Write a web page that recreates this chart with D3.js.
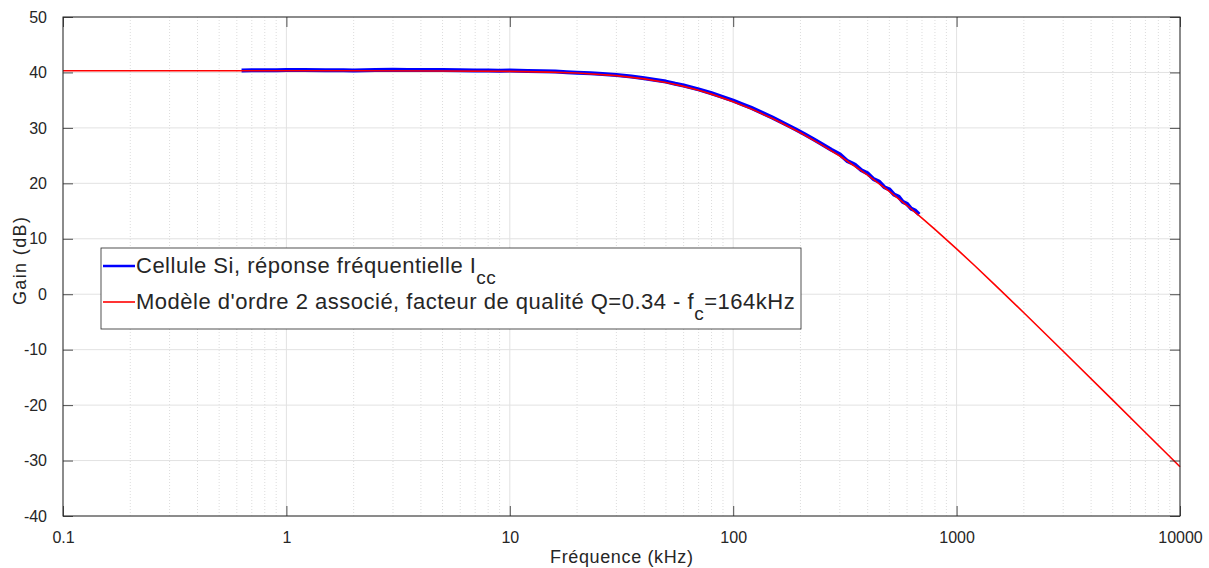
<!DOCTYPE html>
<html>
<head>
<meta charset="utf-8">
<script src="https://cdn.jsdelivr.net/npm/d3@7"></script>
<style>
  body { margin: 0; background: #fff; }
  text { font-family: "Liberation Sans", Arial, sans-serif; fill: #262626; }
</style>
</head>
<body>
<svg id="canvas"></svg>
<script>
// Bode gain plot - measured cell response vs fitted 2nd order model

// measured response (blue), kHz / dB
let measFreq = [0.63, 0.7, 0.8, 0.9, 1, 1.2, 1.5, 1.8, 2, 2.5, 3, 3.5, 4, 5, 6, 7, 8, 9, 10,
    12, 14, 16, 18, 20, 23, 26, 30, 35, 40, 45, 50, 55, 60, 70, 80, 90, 100, 110, 120, 135,
    150, 170, 190, 210, 230, 250, 275, 300, 325, 350, 375, 400, 425, 450, 475, 500, 525,
    550, 575, 600, 625, 650, 680];
let measGain = [40.35, 40.4, 40.4, 40.4, 40.45, 40.45, 40.4, 40.4, 40.35, 40.45, 40.5, 40.45,
    40.45, 40.45, 40.4, 40.35, 40.35, 40.3, 40.35, 40.25, 40.2, 40.15, 40.05, 39.95, 39.85,
    39.7, 39.55, 39.25, 38.95, 38.65, 38.35, 37.95, 37.65, 36.95, 36.25, 35.55, 34.9, 34.25,
    33.65, 32.7, 31.85, 30.75, 29.75, 28.8, 27.9, 27.05, 26.05, 25.25, 24.0, 23.4, 22.35,
    21.8, 20.75, 20.3, 19.3, 18.9, 17.95, 17.6, 16.65, 16.3, 15.45, 15.15, 14.4];

// fitted model (red), kHz / dB
let modelFreq = [0.1, 0.2, 0.5, 1, 2, 5, 10, 15, 20, 30, 40, 50, 60, 70, 80, 100, 120, 150,
    200, 250, 300, 400, 500, 600, 700, 800, 1000, 1200, 1500, 2000, 3000, 5000, 7000, 10000];
let modelGain = [40.3, 40.3, 40.3, 40.3, 40.3, 40.27, 40.19, 40.06, 39.89, 39.42, 38.84,
    38.19, 37.49, 36.79, 36.09, 34.72, 33.45, 31.69, 29.13, 26.9, 24.93, 21.49, 18.56, 16.0,
    13.73, 11.69, 8.18, 5.22, 1.52, -3.34, -10.28, -19.1, -24.93, -31.11];

let xTicks = [0.1, 1, 10, 100, 1000, 10000];
let xTickLabels = ['0.1', '1', '10', '100', '1000', '10000'];
let yTicks = [-40, -30, -20, -10, 0, 10, 20, 30, 40, 50];

let width = 1209;
let height = 568;
let margin = { left: 63, top: 17, right: 29, bottom: 52 };
let plotW = width - margin.left - margin.right;
let plotH = height - margin.top - margin.bottom;

const canvas = d3.select('#canvas').attr('width', width).attr('height', height);
const g = canvas.append('g').attr('transform', `translate(${margin.left},${margin.top})`);

const x = d3.scaleLog().domain([0.1, 10000]).range([0, plotW]);
const y = d3.scaleLinear().domain([-40, 50]).range([plotH, 0]);

// minor grid (2..9 of each decade)
let minor = [];
for (let d = 0.1; d < 10000; d *= 10) {
    for (let k = 2; k <= 9; k++) minor.push(d * k);
}
g.append('g')
    .selectAll('line')
    .data(minor)
    .enter()
    .append('line')
    .attr('x1', (d) => x(d)).attr('x2', (d) => x(d))
    .attr('y1', 0).attr('y2', plotH)
    .attr('stroke', '#dcdcdc')
    .attr('stroke-width', 1)
    .attr('stroke-dasharray', '1,2');

// major grid
g.append('g')
    .selectAll('line')
    .data(xTicks)
    .enter()
    .append('line')
    .attr('x1', (d) => x(d)).attr('x2', (d) => x(d))
    .attr('y1', 0).attr('y2', plotH)
    .attr('stroke', '#e2e2e2');
g.append('g')
    .selectAll('line')
    .data(yTicks)
    .enter()
    .append('line')
    .attr('x1', 0).attr('x2', plotW)
    .attr('y1', (d) => y(d)).attr('y2', (d) => y(d))
    .attr('stroke', '#e2e2e2');

// curves
const line = d3.line().x((d) => x(d[0])).y((d) => y(d[1]));
g.append('path')
    .datum(measFreq.map((f, i) => [f, measGain[i]]))
    .attr('d', line)
    .attr('fill', 'none')
    .attr('stroke', '#0000ff')
    .attr('stroke-width', 4)
    .attr('stroke-linejoin', 'round');
g.append('path')
    .datum(modelFreq.map((f, i) => [f, modelGain[i]]))
    .attr('d', line)
    .attr('fill', 'none')
    .attr('stroke', '#ff0000')
    .attr('stroke-width', 1.6);

// axes (MATLAB style, ticks inside)
const tickLen = 10;
const xAxis = d3.axisBottom(x).tickValues(xTicks).tickFormat((d, i) => xTickLabels[i])
    .tickSize(-tickLen).tickPadding(tickLen + 6);
const yAxis = d3.axisLeft(y).tickValues(yTicks).tickFormat((d) => String(d))
    .tickSize(-tickLen).tickPadding(tickLen + 6);

const gx = g.append('g').attr('transform', `translate(0,${plotH})`).call(xAxis);
const gy = g.append('g').call(yAxis);
g.append('g').call(d3.axisTop(x).tickValues(xTicks).tickSize(-tickLen).tickFormat(''));
g.append('g').attr('transform', `translate(${plotW},0)`)
    .call(d3.axisRight(y).tickValues(yTicks).tickSize(-tickLen).tickFormat(''));

canvas.selectAll('.domain').remove();
canvas.selectAll('.tick line').attr('stroke', '#262626').attr('stroke-width', 0.8);
gx.selectAll('text').style('font-size', '16px').attr('fill', '#262626')
    .attr('font-family', '"Liberation Sans", Arial, sans-serif');
gy.selectAll('text').style('font-size', '16px').attr('fill', '#262626')
    .attr('font-family', '"Liberation Sans", Arial, sans-serif');

g.append('rect')
    .attr('width', plotW).attr('height', plotH)
    .attr('fill', 'none').attr('stroke', '#262626').attr('stroke-width', 1);

// axis titles
canvas.append('text')
    .attr('x', 550).attr('y', 563)
    .attr('textLength', 143).attr('lengthAdjust', 'spacing')
    .style('font-size', '18px')
    .text('Fréquence (kHz)');
canvas.append('text')
    .attr('transform', 'translate(26,305) rotate(-90)')
    .attr('textLength', 88).attr('lengthAdjust', 'spacing')
    .style('font-size', '18px')
    .text('Gain (dB)');

// legend
const lg = canvas.append('g').attr('transform', 'translate(101,248)');
lg.append('rect').attr('width', 700).attr('height', 81)
    .attr('fill', '#fff').attr('stroke', '#262626').attr('stroke-width', 0.8);

lg.append('line').attr('x1', 2).attr('x2', 34).attr('y1', 18).attr('y2', 18)
    .attr('stroke', '#0000ff').attr('stroke-width', 2.5);
lg.append('line').attr('x1', 2).attr('x2', 34).attr('y1', 54).attr('y2', 54)
    .attr('stroke', '#ff0000').attr('stroke-width', 1.6);

const t1 = lg.append('text').attr('x', 35).attr('y', 25)
    .style('font-size', '22px').style('letter-spacing', '0.5px').attr('fill', '#000');
t1.append('tspan').text('Cellule Si, réponse fréquentielle I');
t1.append('tspan').attr('dy', 11).style('font-size', '19px').text('cc');

const t2 = lg.append('text').attr('x', 35).attr('y', 61)
    .style('font-size', '22px').style('letter-spacing', '0.5px').attr('fill', '#000');
t2.append('tspan').text("Modèle d'ordre 2 associé, facteur de qualité Q=0.34 - f");
t2.append('tspan').attr('dy', 11).style('font-size', '19px').text('c');
t2.append('tspan').attr('dy', -11).text('=164kHz');
</script>
</body>
</html>
